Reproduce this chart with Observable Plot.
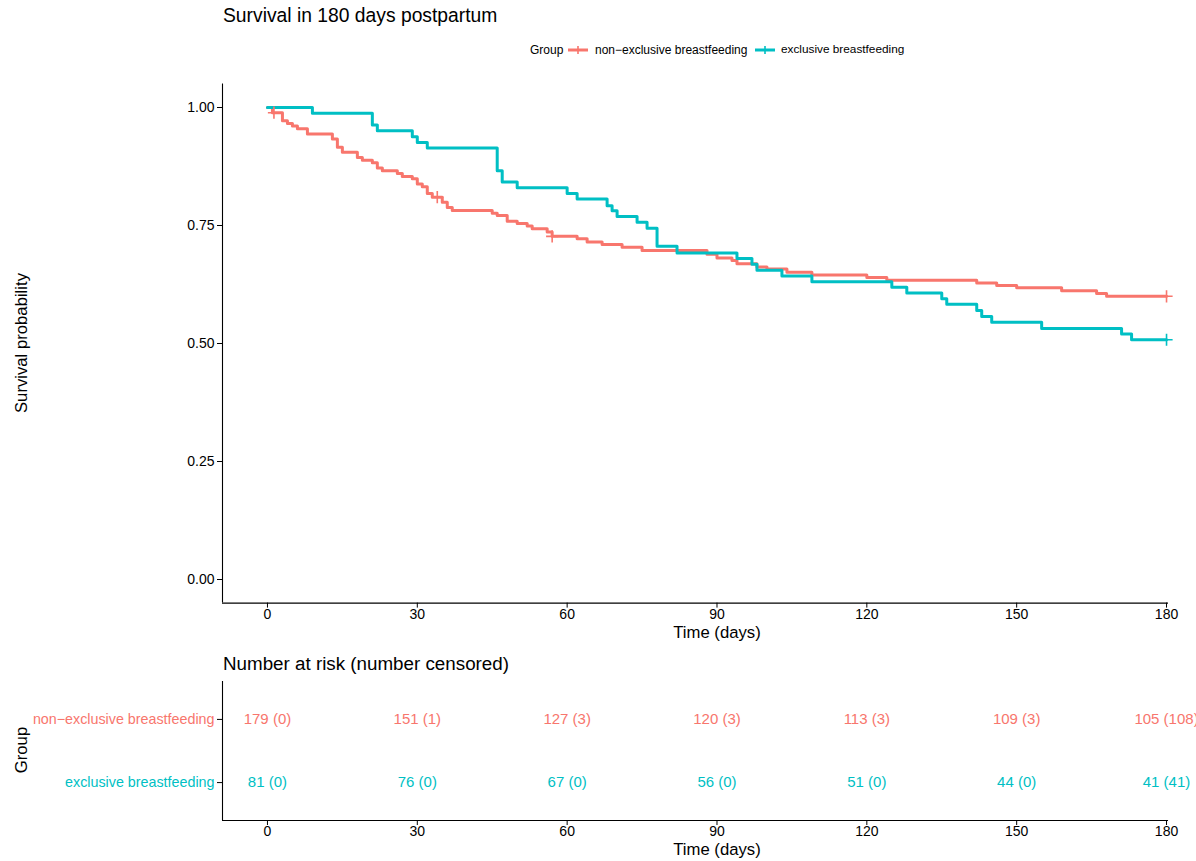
<!DOCTYPE html>
<html><head><meta charset="utf-8">
<script src="https://cdn.jsdelivr.net/npm/d3@7"></script>
<script src="https://cdn.jsdelivr.net/npm/@observablehq/plot@0.6"></script>
<style>
body{margin:0;background:#fff;font-family:"Liberation Sans",Arial,sans-serif;}
#wrap{position:relative;width:1196px;height:861px;overflow:hidden;background:#fff;}
.abs{position:absolute;white-space:nowrap;line-height:1;color:#000;}
.c{transform:translate(-50%,-50%);}
.rot{transform:translate(-50%,-50%) rotate(-90deg);}
#wrap svg{position:absolute;left:0;}
</style></head><body><div id="wrap"></div>
<script>
// ---- data ----
const groups = ["non−exclusive breastfeeding", "exclusive breastfeeding"];
const groupColors = ["#F8766D", "#00BFC4"];

const nonExTime = [0,1,3,4,5,6,8,13,14,15,18,19,21,22,23,26,27,29,30,31,32,33,35,36,37,45,46,48,50,52,53,56,57,62,64,67,71,75,88,90,93,94,98,100,104,109,120,124,142,146,150,159,166,168,180];
const nonExSurv = [1.000,0.989,0.972,0.966,0.961,0.955,0.944,0.933,0.916,0.905,0.894,0.888,0.883,0.872,0.866,0.860,0.854,0.849,0.838,0.832,0.818,0.810,0.799,0.788,0.782,0.776,0.771,0.759,0.754,0.749,0.743,0.736,0.727,0.722,0.715,0.710,0.704,0.697,0.689,0.681,0.676,0.669,0.662,0.658,0.651,0.645,0.640,0.634,0.628,0.623,0.618,0.612,0.606,0.600,0.600];

const exTime = [0,9,21,22,29,30,32,46,47,50,60,62,68,69,70,74,76,78,82,94,97,98,103,109,125,128,135,136,142,143,145,155,171,173,180];
const exSurv = [1.000,0.988,0.963,0.951,0.938,0.926,0.914,0.866,0.842,0.830,0.818,0.806,0.792,0.781,0.769,0.757,0.744,0.706,0.692,0.680,0.668,0.655,0.643,0.631,0.619,0.607,0.595,0.583,0.570,0.557,0.545,0.532,0.520,0.508,0.508];

const censorNonExTime = [1.3,34,57,180];
const censorNonExSurv = [0.989,0.810,0.727,0.600];
const censorExTime = [180];
const censorExSurv = [0.508];

const riskTimes = [0,30,60,90,120,150,180];
const nonExAtRisk = [179,151,127,120,113,109,105];
const nonExCensored = [0,1,3,3,3,3,108];
const exAtRisk = [81,76,67,56,51,44,41];
const exCensored = [0,0,0,0,0,0,41];

const xTicks = [0,30,60,90,120,150,180];
const yTicks = [0,0.25,0.5,0.75,1];

// ---- tables ----
const survRows = [
  ...nonExTime.map((t,i)=>({t, s:nonExSurv[i], g:groups[0]})),
  ...exTime.map((t,i)=>({t, s:exSurv[i], g:groups[1]}))
];
const censorRows = [
  ...censorNonExTime.map((t,i)=>({t, s:censorNonExSurv[i], g:groups[0]})),
  ...censorExTime.map((t,i)=>({t, s:censorExSurv[i], g:groups[1]}))
];
const riskRows = [
  ...riskTimes.map((t,i)=>({t, row:2, g:groups[0], label:`${nonExAtRisk[i]} (${nonExCensored[i]})`})),
  ...riskTimes.map((t,i)=>({t, row:1, g:groups[1], label:`${exAtRisk[i]} (${exCensored[i]})`}))
];
const rowLabels = [{row:2, g:groups[0]}, {row:1, g:groups[1]}];

const font = '"Liberation Sans", Arial, sans-serif';
const wrap = document.getElementById("wrap");

// ---- main survival plot ----
const main = Plot.plot({
  width: 1196, height: 650,
  marginLeft: 222, marginRight: 0, marginTop: 83.4, marginBottom: 47.4,
  style: {fontFamily: font, fontSize: "14px", color: "#000", background: "transparent", overflow: "visible"},
  x: {domain: [-9, 186]},
  y: {domain: [-0.05, 1.05]},
  color: {domain: groups, range: groupColors},
  marks: [
    Plot.ruleX([-9], {y1: -0.05, y2: 1.05, stroke: "#000", strokeWidth: 1.1}),
    Plot.ruleY([-0.05], {x1: -9, x2: 180.4, stroke: "#000", strokeWidth: 1.1}),
    Plot.axisX({ticks: xTicks, tickSize: 5, tickPadding: 1, label: null, fontSize: 14}),
    Plot.axisY({ticks: yTicks, tickFormat: d3.format(".2f"), tickSize: 5, tickPadding: 3, label: null, fontSize: 14}),
    Plot.line(survRows, {x: "t", y: "s", z: "g", stroke: "g", curve: "step-after", strokeWidth: 3}),
    Plot.dot(censorRows, {x: "t", y: "s", stroke: "g", symbol: "plus", r: 4, strokeWidth: 1.6})
  ]
});
main.style.top = "0px";
wrap.appendChild(main);

// ---- risk table ----
const risk = Plot.plot({
  width: 1196, height: 186,
  marginLeft: 222, marginRight: 0, marginTop: 6, marginBottom: 41,
  style: {fontFamily: font, fontSize: "14px", color: "#000", background: "transparent", overflow: "visible"},
  x: {domain: [-9, 186]},
  y: {domain: [0.4, 2.6]},
  color: {domain: groups, range: groupColors},
  marks: [
    Plot.ruleX([-9], {y1: 0.4, y2: 2.6, stroke: "#000", strokeWidth: 1.1}),
    Plot.ruleY([0.4], {x1: -9, x2: 180.4, stroke: "#000", strokeWidth: 1.1}),
    Plot.axisX({ticks: xTicks, tickSize: 5, tickPadding: 1, label: null, fontSize: 14}),
    Plot.axisY({ticks: [1, 2], tickFormat: () => "", tickSize: 5, label: null}),
    Plot.text(rowLabels, {x: () => -9, y: "row", text: "g", fill: "g", textAnchor: "end", dx: -8, fontSize: 14.3}),
    Plot.text(riskRows, {x: "t", y: "row", text: "label", fill: "g", fontSize: 15})
  ]
});
risk.style.top = "675px";
wrap.appendChild(risk);

// ---- html text ----
function addText(txt, cls, left, top, size, extra) {
  const d = document.createElement("div");
  d.className = "abs " + (cls || "");
  d.textContent = txt;
  d.style.left = left + "px";
  d.style.top = top + "px";
  d.style.fontSize = size + "px";
  if (extra) Object.assign(d.style, extra);
  wrap.appendChild(d);
  return d;
}
addText("Survival in 180 days postpartum", "", 223, 6, 19.3);
addText("Time (days)", "c", 717, 633, 16.7);
addText("Survival probability", "rot", 22, 343, 16.7);
addText("Number at risk (number censored)", "", 223, 655, 18.8);
addText("Time (days)", "c", 717, 850, 16.7);
addText("Group", "rot", 22, 750, 16.7);

// legend
addText("Group", "", 530, 44, 12);
function swatch(left, color) {
  const ns = "http://www.w3.org/2000/svg";
  const s = document.createElementNS(ns, "svg");
  s.setAttribute("width", 22); s.setAttribute("height", 14);
  s.style.position = "absolute"; s.style.left = left + "px"; s.style.top = "43px";
  const l = document.createElementNS(ns, "line");
  l.setAttribute("x1", 1); l.setAttribute("x2", 21); l.setAttribute("y1", 7); l.setAttribute("y2", 7);
  l.setAttribute("stroke", color); l.setAttribute("stroke-width", 3);
  const p = document.createElementNS(ns, "path");
  p.setAttribute("d", "M7,7H15M11,3V11");
  p.setAttribute("stroke", color); p.setAttribute("stroke-width", 1.6);
  s.appendChild(l); s.appendChild(p);
  wrap.appendChild(s);
}
swatch(567, groupColors[0]);
addText(groups[0], "", 595, 44, 12);
swatch(754, groupColors[1]);
addText(groups[1], "", 781, 44, 11.8);
</script>
</body></html>
